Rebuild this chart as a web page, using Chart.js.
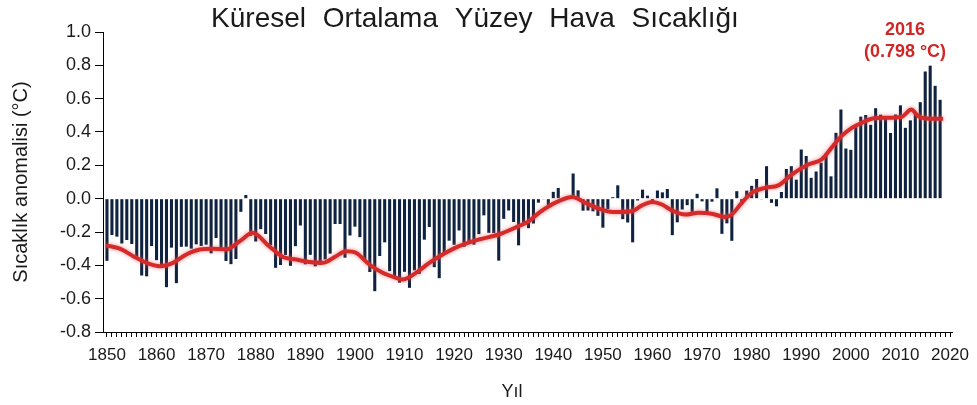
<!DOCTYPE html>
<html>
<head>
<meta charset="utf-8">
<script src="https://cdn.jsdelivr.net/npm/chart.js@4.4.1/dist/chart.umd.min.js"></script>
<style>
  html, body { margin: 0; padding: 0; background: #fff; }
  #wrap { width: 977px; height: 405px; }
</style>
</head>
<body>
<div id="wrap"><canvas id="chart" width="977" height="405"></canvas></div>
<script>
// yearly anomaly bars, 1850 .. 2018
const firstYear = 1850;
const anomaly = [
  -0.373, -0.218, -0.228, -0.269, -0.248, -0.272, -0.358, -0.461, -0.466, -0.284,
  -0.369, -0.400, -0.531, -0.294, -0.507, -0.289, -0.288, -0.300, -0.274, -0.284,
  -0.276, -0.328, -0.236, -0.303, -0.374, -0.393, -0.362, -0.079, 0.022, -0.223,
  -0.257, -0.183, -0.212, -0.279, -0.415, -0.398, -0.338, -0.403, -0.285, -0.161,
  -0.394, -0.337, -0.406, -0.398, -0.365, -0.330, -0.152, -0.152, -0.354, -0.221,
  -0.168, -0.231, -0.370, -0.440, -0.555, -0.344, -0.262, -0.435, -0.475, -0.504,
  -0.439, -0.535, -0.430, -0.451, -0.246, -0.170, -0.411, -0.477, -0.329, -0.252,
  -0.277, -0.191, -0.289, -0.270, -0.276, -0.213, -0.100, -0.205, -0.206, -0.372,
  -0.121, -0.071, -0.140, -0.280, -0.143, -0.177, -0.149, -0.024, -0.002, -0.041,
  0.041, 0.064, 0.003, 0.014, 0.151, 0.050, -0.072, -0.071, -0.076, -0.103,
  -0.174, -0.062, 0.009, 0.080, -0.123, -0.143, -0.262, -0.011, 0.054, 0.018,
  -0.025, 0.049, 0.038, 0.058, -0.219, -0.142, -0.065, -0.039, -0.079, 0.029,
  -0.016, -0.085, -0.018, 0.062, -0.211, -0.148, -0.253, 0.045, -0.034, 0.048,
  0.077, 0.118, -0.002, 0.195, -0.025, -0.046, 0.040, 0.178, 0.195, 0.114,
  0.295, 0.256, 0.125, 0.163, 0.216, 0.268, 0.134, 0.395, 0.535, 0.301,
  0.293, 0.437, 0.492, 0.502, 0.443, 0.543, 0.504, 0.490, 0.394, 0.505,
  0.560, 0.425, 0.470, 0.514, 0.579, 0.763, 0.798, 0.677, 0.593
];
const years = anomaly.map((_, i) => firstYear + i);

// smoothed red curve
const smoothYears = [
  1849.8, 1852.6, 1855.3, 1858, 1860.7, 1863.3, 1866, 1868.7, 1871.3, 1874,
  1876.8, 1879.4, 1882.5, 1885.5, 1888.2, 1890.8, 1893.5, 1896.2, 1898.2, 1900.2,
  1902.9, 1905.6, 1908.3, 1909.6, 1912.3, 1915, 1917.7, 1921, 1925, 1929,
  1933, 1935.1, 1937.1, 1939.1, 1941.1, 1943.8, 1946.5, 1949.2, 1952, 1955.9,
  1957.9, 1959.9, 1961.9, 1963.9, 1966.6, 1969.3, 1971.9, 1974.7, 1976, 1978,
  1980, 1982.7, 1985.4, 1988.1, 1991.4, 1994.1, 1996.1, 1998.1, 2000.2, 2002.2,
  2004.2, 2006.8, 2010.2, 2012.2, 2013.6, 2016.2, 2018.6
];
const smoothValues = [
  -0.28, -0.30, -0.345, -0.385, -0.405, -0.385, -0.335, -0.305, -0.30, -0.305,
  -0.255, -0.205, -0.28, -0.35, -0.365, -0.38, -0.385, -0.345, -0.315, -0.325,
  -0.395, -0.445, -0.475, -0.485, -0.445, -0.385, -0.335, -0.285, -0.245, -0.215,
  -0.165, -0.135, -0.085, -0.045, -0.015, 0.01, -0.025, -0.06, -0.08, -0.075,
  -0.04, -0.02, -0.035, -0.07, -0.095, -0.085, -0.09, -0.11, -0.095, -0.025,
  0.035, 0.065, 0.08, 0.145, 0.205, 0.235, 0.305, 0.375, 0.425, 0.455,
  0.48, 0.485, 0.49, 0.535, 0.495, 0.48, 0.48
];

const yMin = -0.8, yMax = 1.0, yStep = 0.2;
const xMin = 1849.2, xMax = 2020.6;

const titleText = 'Küresel Ortalama Yüzey Hava Sıcaklığı';
const yTitle = 'Sıcaklık anomalisi (°C)';
const xTitle = 'Yıl';
const peakLabel = ['2016', '(0.798 °C)'];

const FONT = "'Liberation Sans', Arial, sans-serif";

const decorations = {
  id: 'decorations',
  beforeDatasetDraw(chart, args) {
    if (args.meta.type === 'line') {
      const ctx = chart.ctx;
      ctx.save();
      ctx.shadowColor = 'rgba(235, 90, 90, 0.7)';
      ctx.shadowBlur = 4;
    }
  },
  afterDatasetDraw(chart, args) {
    if (args.meta.type === 'line') chart.ctx.restore();
  },
  afterDraw(chart) {
    const ctx = chart.ctx;
    ctx.save();
    ctx.textAlign = 'center';
    ctx.textBaseline = 'middle';
    ctx.fillStyle = '#1a1a1a';
    ctx.font = '28px ' + FONT;
    if ('wordSpacing' in ctx) ctx.wordSpacing = '9px';
    ctx.fillText(titleText, 475, 19);
    if ('wordSpacing' in ctx) ctx.wordSpacing = '0px';
    ctx.font = '18px ' + FONT;
    ctx.fillText(xTitle, 512, 392);
    ctx.fillStyle = '#d02626';
    ctx.font = 'bold 18px ' + FONT;
    ctx.fillText(peakLabel[0], 905, 30);
    ctx.fillText(peakLabel[1], 905, 52);
    ctx.restore();
  }
};

new Chart(document.getElementById('chart'), {
  type: 'bar',
  data: {
    datasets: [
      {
        type: 'line',
        data: smoothYears.map((x, i) => ({ x, y: smoothValues[i] })),
        borderColor: '#d42a2a',
        borderWidth: 4,
        pointRadius: 0,
        cubicInterpolationMode: 'monotone',
        order: 0
      },
      {
        type: 'bar',
        data: years.map((x, i) => ({ x, y: anomaly[i] })),
        backgroundColor: '#0f2340',
        barPercentage: 0.62,
        categoryPercentage: 1,
        order: 1
      }
    ]
  },
  options: {
    responsive: false,
    animation: false,
    layout: { padding: { top: 32, right: 20, left: 0, bottom: 0 } },
    plugins: { legend: { display: false }, tooltip: { enabled: false }, title: { display: false } },
    scales: {
      x: {
        type: 'linear',
        min: xMin,
        max: xMax,
        offset: false,
        afterFit: s => { s.height = 73; },
        border: { display: true, color: '#000', width: 1 },
        grid: { display: true, drawOnChartArea: false, drawTicks: true, tickLength: 5, tickColor: '#000', offset: false },
        ticks: {
          stepSize: 1,
          autoSkip: false,
          includeBounds: false,
          maxRotation: 0,
          padding: 8,
          color: '#1a1a1a',
          font: { family: FONT, size: 17 },
          callback: v => (Math.round(v) === v && v % 10 === 0) ? String(v) : ''
        }
      },
      y: {
        min: yMin,
        max: yMax,
        afterFit: s => { s.width = 103; },
        border: { display: true, color: '#000', width: 1 },
        grid: { display: true, drawOnChartArea: false, drawTicks: true, tickLength: 8, tickColor: '#000' },
        title: {
          display: true,
          text: yTitle,
          color: '#1a1a1a',
          font: { family: FONT, size: 20 },
          padding: { top: 9, bottom: 0 }
        },
        ticks: {
          stepSize: yStep,
          padding: 4,
          color: '#1a1a1a',
          font: { family: FONT, size: 18 },
          callback: v => Math.abs(v) < 1e-9 ? '0.0' : v.toFixed(1)
        }
      }
    }
  },
  plugins: [decorations]
});
</script>
</body>
</html>
